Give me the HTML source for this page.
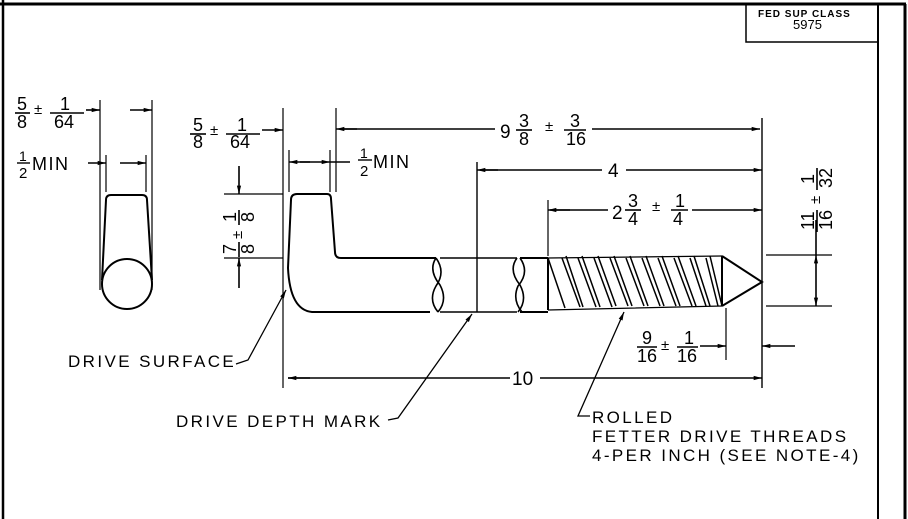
<!DOCTYPE html>
<html><head><meta charset="utf-8"><style>
html,body{margin:0;padding:0;background:#fff;}
svg{display:block;}
text{font-family:"Liberation Sans",sans-serif;fill:#000;}
.lb{letter-spacing:2.4px;font-size:17px;}
</style></head><body>
<svg width="908" height="519" viewBox="0 0 908 519" xmlns="http://www.w3.org/2000/svg">
<defs>
<marker id="a" viewBox="0 0 10 6" refX="10" refY="3" markerWidth="10" markerHeight="5" orient="auto" markerUnits="userSpaceOnUse"><path d="M0,0.5 L10,3 L0,5.5z" fill="#000"/></marker>
</defs>
<g stroke="#000" fill="none" stroke-width="1.6">
<line x1="3" y1="0" x2="3" y2="519" stroke-width="2.5"/>
<line x1="0" y1="4" x2="906" y2="4" stroke-width="3"/>
<line x1="878" y1="4" x2="878" y2="519" stroke-width="2"/>
<line x1="905" y1="4" x2="905" y2="519" stroke-width="3"/>
<polyline points="746,4 746,42 878,42" stroke-width="1.5"/>

<line x1="100" y1="100" x2="100" y2="290" stroke-width="1.2"/>
<line x1="152" y1="100" x2="152" y2="290" stroke-width="1.2"/>
<line x1="86" y1="110" x2="100" y2="110" marker-end="url(#a)"/>
<line x1="130" y1="110" x2="152" y2="110" marker-end="url(#a)"/>
<line x1="106" y1="155" x2="106" y2="192" stroke-width="1.2"/>
<line x1="146" y1="155" x2="146" y2="192" stroke-width="1.2"/>
<line x1="88" y1="163" x2="106" y2="163" marker-end="url(#a)"/>
<line x1="120" y1="163" x2="146" y2="163" marker-end="url(#a)"/>
<path d="M102,280 L106,200 Q106,195 111,195 L142,195 Q147,195 147,200 L152,280" stroke-width="2"/>
<circle cx="127" cy="284" r="25" stroke-width="2"/>

<line x1="283" y1="108" x2="283" y2="388" stroke-width="1.2"/>
<line x1="336" y1="108" x2="336" y2="192" stroke-width="1.2"/>
<line x1="262" y1="130" x2="283" y2="130" marker-end="url(#a)"/>
<line x1="357" y1="129" x2="336" y2="129" marker-end="url(#a)"/>
<line x1="340" y1="129" x2="495" y2="129"/>
<line x1="592" y1="129" x2="760" y2="129" marker-end="url(#a)"/>
<line x1="289" y1="150" x2="289" y2="192" stroke-width="1.2"/>
<line x1="330" y1="150" x2="330" y2="192" stroke-width="1.2"/>
<line x1="310" y1="162" x2="289" y2="162" marker-end="url(#a)"/>
<line x1="300" y1="162" x2="330" y2="162" marker-end="url(#a)"/>
<line x1="330" y1="162" x2="350" y2="162"/>
<path d="M288,268 L291,200 Q291,194 297,194 L327,194 Q331,194 331,199 L335,252 Q335,258 341,258 L436,258" stroke-width="2"/>
<path d="M288,268 Q290,310 312,312 L430,312" stroke-width="2"/>
<path d="M436,258 Q428,270 440,285 Q448,300 438,312 M436,258 Q446,272 436,286 Q428,300 438,312 M440,258 L517,258 M440,312 L517,312" stroke-width="1.6"/>
<path d="M517,258 Q508,270 520,285 Q528,300 518,312 M520,258 Q530,272 518,286 Q512,300 522,312" stroke-width="1.6"/>
<line x1="520" y1="258" x2="548" y2="258" stroke-width="2"/>
<line x1="520" y1="312" x2="548" y2="312" stroke-width="2"/>
<line x1="548" y1="258" x2="548" y2="310" stroke-width="2"/>
<line x1="477" y1="162" x2="477" y2="312" stroke-width="1.4"/>
<path d="M548,258 L722,256 M548,310 L722,306" stroke-width="1.2"/>
<path d="M548,258 L565,308 M562,258 L580,307 M566,256 L583,307 M578,258 L596,307 M582,256 L600,307 M594,258 L612,307 M598,256 L616,306 M610,258 L628,306 M614,256 L632,306 M626,258 L644,306 M630,256 L648,306 M642,258 L660,306 M646,256 L664,306 M658,258 L676,306 M662,256 L680,306 M674,258 L692,306 M678,256 L696,306 M690,258 L706,306 M694,256 L710,306 M706,258 L718,306 M710,256 L722,306" stroke-width="1.5"/>
<path d="M722,256 L722,306 M722,256 L762,282 L722,306" stroke-width="2"/>

<line x1="762" y1="118" x2="762" y2="388" stroke-width="1.4"/>
<line x1="548" y1="200" x2="548" y2="256" stroke-width="1.2"/>
<line x1="498" y1="170" x2="477" y2="170" marker-end="url(#a)"/>
<line x1="480" y1="170" x2="602" y2="170"/>
<line x1="626" y1="170" x2="762" y2="170" marker-end="url(#a)"/>
<line x1="570" y1="210" x2="548" y2="210" marker-end="url(#a)"/>
<line x1="550" y1="210" x2="608" y2="210"/>
<line x1="692" y1="210" x2="762" y2="210" marker-end="url(#a)"/>
<line x1="766" y1="255" x2="832" y2="255" stroke-width="1.2"/>
<line x1="766" y1="306" x2="832" y2="306" stroke-width="1.2"/>
<line x1="816" y1="220" x2="816" y2="255" />
<line x1="816" y1="280" x2="816" y2="255" marker-end="url(#a)"/>
<line x1="816" y1="280" x2="816" y2="306" marker-end="url(#a)"/>
<line x1="726" y1="308" x2="726" y2="360" stroke-width="1.2"/>
<line x1="700" y1="346" x2="726" y2="346" marker-end="url(#a)"/>
<line x1="795" y1="346" x2="762" y2="346" marker-end="url(#a)"/>
<line x1="310" y1="378" x2="288" y2="378" marker-end="url(#a)"/>
<line x1="288" y1="378" x2="510" y2="378"/>
<line x1="540" y1="378" x2="762" y2="378" marker-end="url(#a)"/>
<line x1="224" y1="194" x2="283" y2="194" stroke-width="1.2"/>
<line x1="224" y1="258" x2="283" y2="258" stroke-width="1.2"/>
<line x1="239" y1="166" x2="239" y2="194" marker-end="url(#a)"/>
<line x1="239" y1="288" x2="239" y2="258" marker-end="url(#a)"/>
<polyline points="236,364 248,360 286,290" stroke-width="1.3" marker-end="url(#a)"/>
<polyline points="388,420 398,418 472,314" stroke-width="1.3" marker-end="url(#a)"/>
<polyline points="590,416 578,416 624,312" stroke-width="1.3" marker-end="url(#a)"/>
</g>

<g font-size="18">
<text x="17" y="110">5</text><line x1="15" y1="113" x2="30" y2="113" stroke="#000" stroke-width="1.6"/><text x="17" y="128">8</text>
<text x="34" y="114" font-size="15">±</text>
<text x="60" y="110">1</text><line x1="50" y1="113" x2="84" y2="113" stroke="#000" stroke-width="1.6"/><text x="54" y="128">64</text>
<text x="19" y="161" font-size="14">1</text><line x1="17" y1="163" x2="30" y2="163" stroke="#000" stroke-width="1.4"/><text x="19" y="178" font-size="15">2</text>
<text x="32" y="170" letter-spacing="1.5">MIN</text>
<text x="193" y="131">5</text><line x1="190" y1="134" x2="206" y2="134" stroke="#000" stroke-width="1.6"/><text x="193" y="148">8</text>
<text x="210" y="135" font-size="15">±</text>
<text x="237" y="131">1</text><line x1="226" y1="134" x2="260" y2="134" stroke="#000" stroke-width="1.6"/><text x="230" y="148">64</text>
<text x="360" y="158" font-size="14">1</text><line x1="358" y1="160" x2="372" y2="160" stroke="#000" stroke-width="1.4"/><text x="360" y="176" font-size="15">2</text>
<text x="373" y="168" letter-spacing="1.5">MIN</text>
<text x="500" y="138" font-size="19">9</text>
<text x="519" y="127">3</text><line x1="516" y1="130" x2="532" y2="130" stroke="#000" stroke-width="1.6"/><text x="519" y="145">8</text>
<text x="545" y="131" font-size="15">±</text>
<text x="570" y="127">3</text><line x1="564" y1="130" x2="586" y2="130" stroke="#000" stroke-width="1.6"/><text x="566" y="145">16</text>
<text x="608" y="177" font-size="19">4</text>
<text x="612" y="219" font-size="19">2</text>
<text x="628" y="207">3</text><line x1="625" y1="210" x2="641" y2="210" stroke="#000" stroke-width="1.6"/><text x="628" y="225">4</text>
<text x="652" y="211" font-size="15">±</text>
<text x="675" y="207">1</text><line x1="671" y1="210" x2="688" y2="210" stroke="#000" stroke-width="1.6"/><text x="673" y="225">4</text>
<text x="642" y="344">9</text><line x1="637" y1="347" x2="657" y2="347" stroke="#000" stroke-width="1.6"/><text x="637" y="362">16</text>
<text x="661" y="350" font-size="15">±</text>
<text x="684" y="344">1</text><line x1="677" y1="347" x2="698" y2="347" stroke="#000" stroke-width="1.6"/><text x="677" y="362">16</text>
<text x="512" y="385" font-size="19">10</text>
<g transform="translate(238,226) rotate(-90)">
<text x="-28" y="-2">7</text><text x="-28" y="16">8</text><line x1="-31" y1="1" x2="-16" y2="1" stroke="#000" stroke-width="1.6"/>
<text x="-13" y="4" font-size="15">±</text>
<text x="4" y="-2">1</text><text x="4" y="16">8</text><line x1="1" y1="1" x2="16" y2="1" stroke="#000" stroke-width="1.6"/>
</g>
<g transform="translate(816,182) rotate(-90)">
<text x="-48" y="-2">11</text><text x="-48" y="16">16</text><line x1="-50" y1="1" x2="-28" y2="1" stroke="#000" stroke-width="1.6"/>
<text x="-22" y="4" font-size="15">±</text>
<text x="-2" y="-2">1</text><text x="-6" y="16">32</text><line x1="-8" y1="1" x2="14" y2="1" stroke="#000" stroke-width="1.6"/>
</g>
<text class="lb" x="68" y="367">DRIVE SURFACE</text>
<text class="lb" x="176" y="427">DRIVE DEPTH MARK</text>
<text class="lb" x="592" y="423">ROLLED</text>
<text class="lb" x="592" y="442">FETTER DRIVE THREADS</text>
<text class="lb" x="592" y="461">4-PER INCH (SEE NOTE-4)</text>
<text x="758" y="17" font-size="10" font-weight="bold" letter-spacing="1">FED SUP CLASS</text>
<text x="793" y="29" font-size="13">5975</text>
</g>
</svg>
</body></html>
